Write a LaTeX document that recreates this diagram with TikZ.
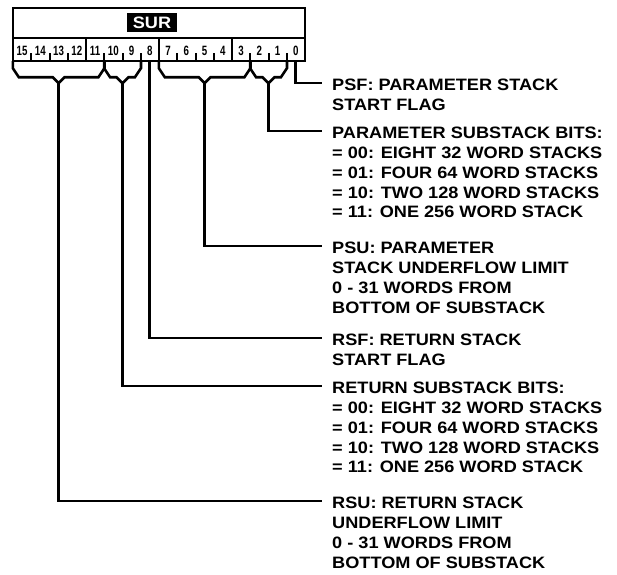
\documentclass[tikz,border=0pt]{standalone}
\usepackage{fontspec}
\setmainfont{Liberation Sans}[FakeStretch=1.1]
\newfontfamily\bitfont{Liberation Sans}[FakeStretch=0.72]
\usetikzlibrary{calc}

\begin{document}
\begin{tikzpicture}[x=1pt, y=-1pt]
    \tikzset{frm/.style={draw, line width=2pt},
        bit/.style={minimum width=18.25pt, minimum height=21pt, inner sep=0pt},
        brk/.style={line width=2.6pt},
        lead/.style={line width=2.9pt},
        desc/.style={anchor=north west, inner sep=0pt, align=left, font=\bfseries\fontsize{16.5}{19.8}\selectfont}}
    \useasboundingbox (0,0) rectangle (617,574);
    \node[fill=black, text=white, minimum width=50pt, minimum height=19pt, inner sep=0pt, font=\bfseries\fontsize{16.5}{16.5}\selectfont] (sur) at (152,22.5) {SUR};
    \foreach \i in {0,...,15}
        \node[bit] (b\i) at ({13+(15.5-\i)*18.25},50.5) {\bitfont\fontsize{13.5}{13.5}\selectfont\bfseries\i};
    \draw[frm] (13,8) rectangle (305,61) (13,37.5) -- (305,37.5);
    \foreach \i in {12,8,4} \draw[frm] (b\i.south east) -- ++(0,-23.5);
    \foreach \i in {15,14,13,11,10,9,7,6,5,3,2,1} \draw[frm] (b\i.south east) -- ++(0,-8);
    \node[desc] (psf) at (332,79) {PSF: PARAMETER STACK\\START FLAG};
    \node[desc] (psb) at (332,127) {PARAMETER SUBSTACK BITS:\\= 00: EIGHT 32 WORD STACKS\\= 01: FOUR 64 WORD STACKS\\= 10: TWO 128 WORD STACKS\\= 11: ONE 256 WORD STACK};
    \node[desc] (psu) at (332,242) {PSU: PARAMETER\\STACK UNDERFLOW LIMIT\\0 - 31 WORDS FROM\\BOTTOM OF SUBSTACK};
    \node[desc] (rsf) at (332,334) {RSF: RETURN STACK\\START FLAG};
    \node[desc] (rsb) at (332,382) {RETURN SUBSTACK BITS:\\= 00: EIGHT 32 WORD STACKS\\= 01: FOUR 64 WORD STACKS\\= 10: TWO 128 WORD STACKS\\= 11: ONE 256 WORD STACK};
    \node[desc] (rsu) at (332,497) {RSU: RETURN STACK\\UNDERFLOW LIMIT\\0 - 31 WORDS FROM\\BOTTOM OF SUBSTACK};
    \foreach \l/\r/\d in {15/11/rsu, 10/9/rsb, 7/3/psu, 2/1/psb} {
        \coordinate (m) at ($(b\l.south west)!0.5!(b\r.south east)$);
        \draw[brk] (b\l.south west) -- ++(0,7) -- ++(6,9) -- ($(m)+(-6,16)$) -- ($(m)+(0,22)$) -- ($(m)+(6,16)$)
            -- ($(b\r.south east)+(-6,16)$) -- ++(6,-9) -- (b\r.south east);
        \draw[lead] ($(m)+(0,22)$) |- ([xshift=-10pt,yshift=-4pt]\d.north west);
    }
    \draw[lead] (b8.south) |- ([xshift=-10pt,yshift=-4pt]rsf.north west);
    \draw[lead] (b0.south) |- ([xshift=-10pt,yshift=-4pt]psf.north west);
\end{tikzpicture}
\end{document}
